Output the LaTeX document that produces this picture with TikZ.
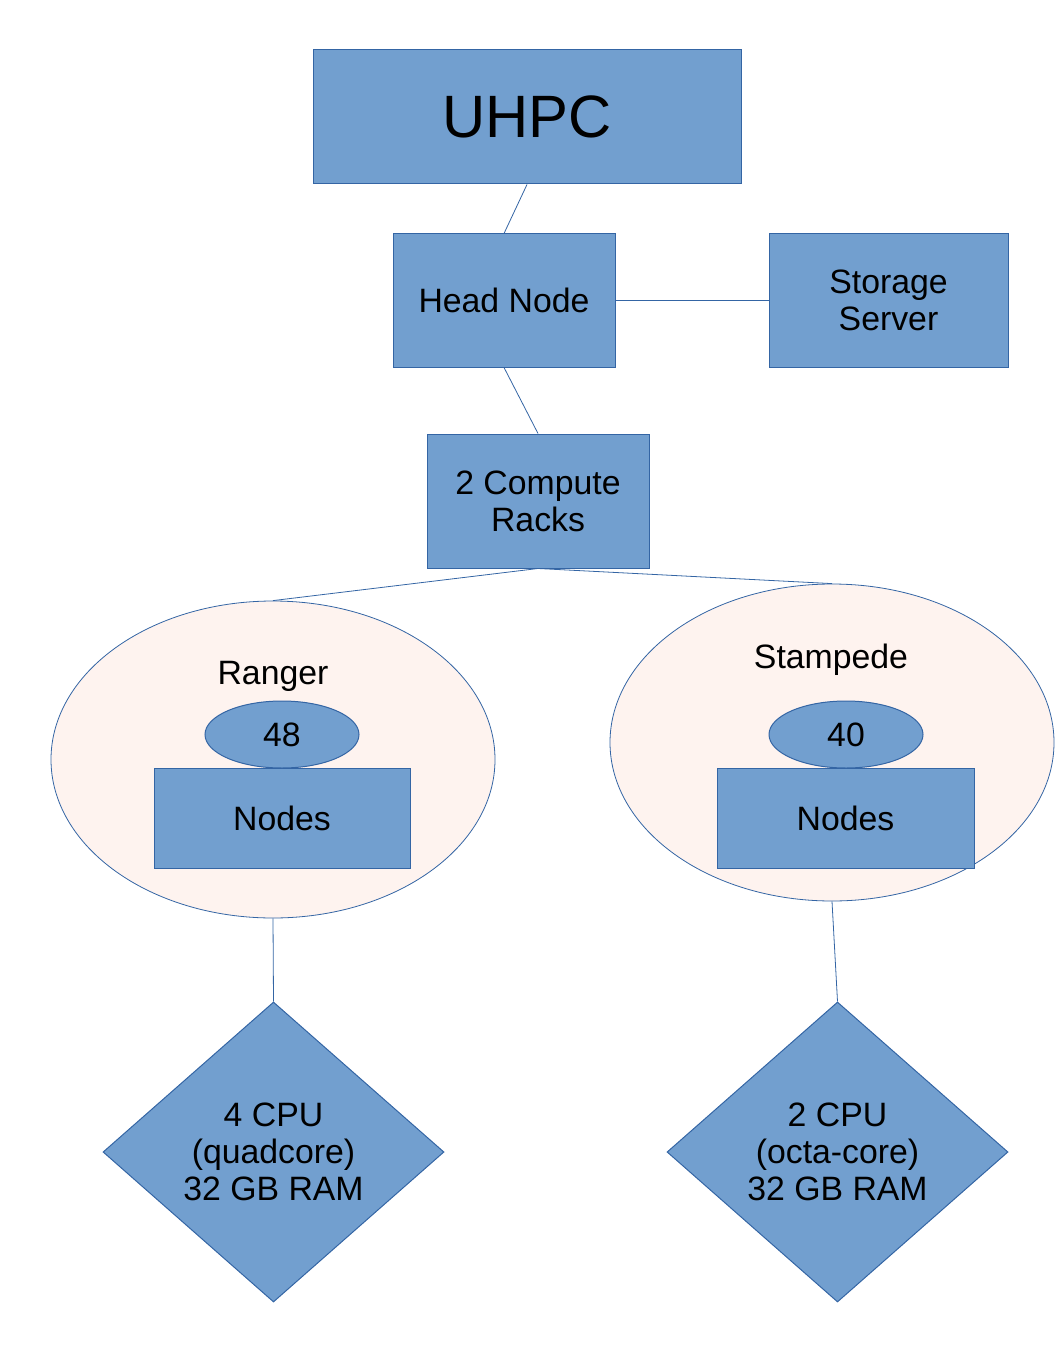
\documentclass[tikz,border=0pt]{standalone}
\usepackage{fontspec}
\setmainfont{Liberation Sans}
\usetikzlibrary{shapes.geometric}
\definecolor{boxfill}{HTML}{729FCF}
\definecolor{boxline}{HTML}{3465A4}
\definecolor{groupfill}{HTML}{FEF3EF}
\tikzset{
  box/.style={draw=boxline, fill=boxfill, line width=0.5pt, inner sep=0pt, align=center,
    font=\fontsize{16.9}{18.6}\selectfont},
  group/.style={ellipse, draw=boxline, fill=groupfill, line width=0.4pt, inner sep=0pt},
  count/.style={box, ellipse, minimum width=77, minimum height=33.5},
  cpu/.style={box, diamond, minimum width=170.5, minimum height=150, aspect=1.137},
  link/.style={draw=boxline, line width=0.4pt}
}
\begin{document}
\begin{tikzpicture}[x=0.5pt, y=-0.5pt]
\useasboundingbox (0,0) rectangle (1054,1364);
% top of the tree
\node[box, minimum width=214, minimum height=67, font=\fontsize{29.9}{33}\selectfont] (uhpc) at (527,117) {UHPC};
\node[box, minimum width=111, minimum height=66.5] (head) at (504,300.5) {Head Node};
\node[box, minimum width=119.5, minimum height=66.5] (storage) at (888.5,300.5) {Storage\\Server};
\node[box, minimum width=111, minimum height=67] (racks) at (538,501) {2 Compute\\Racks};
% the two clusters
\node[group, minimum width=222, minimum height=158.5] (ranger) at (273,759.5) {};
\node[group, minimum width=222, minimum height=158.5] (stampede) at (832,742.5) {};
\node[anchor=base, font=\fontsize{16.9}{18.6}\selectfont] (rangername) at (273,684) {Ranger};
\node[anchor=base, font=\fontsize{16.9}{18.6}\selectfont] (stampedename) at (831,668) {Stampede};
\node[box, minimum width=128, minimum height=50] (rangernodes) at (282,818) {Nodes};
\node[box, minimum width=128.5, minimum height=50] (stampedenodes) at (845.5,818) {Nodes};
\node[count] (rangercount) at (282,734.5) {48};
\node[count] (stampedecount) at (846,734.5) {40};
% processors
\node[cpu] (rangercpu) at (273.5,1152) {4 CPU\\(quadcore)\\32 GB RAM};
\node[cpu] (stampedecpu) at (837.5,1152) {2 CPU\\(octa-core)\\32 GB RAM};
% connectors
\draw[link] (uhpc.south) -- (head.north);
\draw[link] (head.east) -- (storage.west);
\draw[link] (head.south) -- (racks.north);
\draw[link] (racks.south) -- (ranger.north);
\draw[link] (racks.south) -- (stampede.north);
\draw[link] (ranger.south) -- (rangercpu.north);
\draw[link] (stampede.south) -- (stampedecpu.north);
\end{tikzpicture}
\end{document}
